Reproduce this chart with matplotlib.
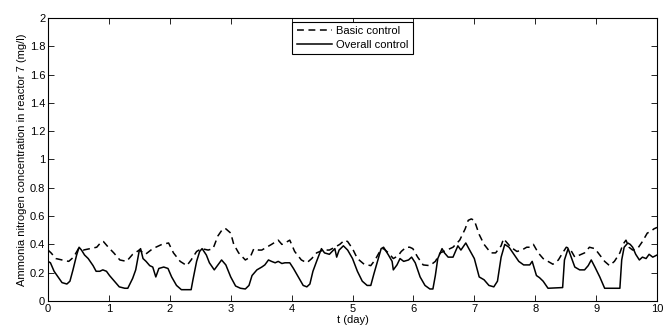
from matplotlib import pyplot as plt
import numpy as np

# datos
t_basic = [0.0, 0.05, 0.13, 0.23, 0.34, 0.42, 0.5, 0.58, 0.69, 0.8, 0.88, 0.91, 0.99, 1.08, 1.18, 1.29,
           1.39, 1.5, 1.6, 1.72, 1.87, 1.98, 2.06, 2.17, 2.28, 2.35, 2.44, 2.52, 2.63, 2.71, 2.79,
           2.87, 2.92, 3.0, 3.05, 3.13, 3.24, 3.32, 3.38, 3.46, 3.51, 3.59, 3.67, 3.78, 3.84, 3.89,
           3.97, 4.05, 4.16, 4.25, 4.33, 4.41, 4.52, 4.62, 4.71, 4.79, 4.87, 4.92, 5.0, 5.08, 5.19,
           5.3, 5.37, 5.46, 5.51, 5.59, 5.67, 5.75, 5.8, 5.88, 5.94, 5.99, 6.07, 6.16, 6.27, 6.36,
           6.44, 6.55, 6.65, 6.76, 6.85, 6.9, 6.95, 7.0, 7.08, 7.16, 7.27, 7.35, 7.44, 7.48, 7.52,
           7.6, 7.7, 7.78, 7.86, 7.91, 7.97, 8.05, 8.13, 8.21, 8.29, 8.38, 8.45, 8.51, 8.57, 8.65,
           8.73, 8.81, 8.89, 8.98, 9.06, 9.14, 9.22, 9.3, 9.39, 9.44, 9.49, 9.54, 9.6, 9.68, 9.76,
           9.84, 9.89, 9.95, 10.0]
basic = [0.36, 0.34, 0.30, 0.29, 0.28, 0.31, 0.37, 0.36, 0.37, 0.38, 0.42, 0.42, 0.38, 0.34, 0.29, 0.28,
         0.33, 0.36, 0.33, 0.37, 0.40, 0.41, 0.34, 0.28, 0.25, 0.29, 0.35, 0.37, 0.36, 0.37, 0.46,
         0.51, 0.51, 0.48, 0.40, 0.34, 0.29, 0.31, 0.37, 0.36, 0.36, 0.38, 0.40, 0.43, 0.40, 0.41,
         0.43, 0.35, 0.29, 0.27, 0.30, 0.34, 0.36, 0.36, 0.38, 0.40, 0.43, 0.42, 0.37, 0.30, 0.26,
         0.25, 0.29, 0.36, 0.37, 0.34, 0.30, 0.32, 0.35, 0.38, 0.38, 0.37, 0.31, 0.255, 0.25, 0.28,
         0.34, 0.36, 0.38, 0.43, 0.51, 0.57, 0.58, 0.57, 0.47, 0.40, 0.34, 0.34, 0.39, 0.44, 0.42,
         0.38, 0.35, 0.36, 0.38, 0.38, 0.40, 0.34, 0.30, 0.28, 0.26, 0.29, 0.34, 0.38, 0.37, 0.31,
         0.325, 0.34, 0.38, 0.37, 0.325, 0.28, 0.25, 0.28, 0.34, 0.40, 0.43, 0.38, 0.36, 0.37, 0.42,
         0.48, 0.49, 0.51, 0.52]

t_overall = [0.0, 0.04, 0.1, 0.18, 0.23, 0.31, 0.36, 0.41, 0.47, 0.51, 0.55, 0.6, 0.66, 0.74, 0.79, 0.85,
             0.9, 0.96, 1.01, 1.09, 1.17, 1.26, 1.31, 1.39, 1.44, 1.5, 1.52, 1.56, 1.61, 1.67, 1.72,
             1.77, 1.82, 1.9, 1.97, 2.03, 2.11, 2.19, 2.35, 2.38, 2.44, 2.49, 2.53, 2.6, 2.65, 2.73,
             2.79, 2.85, 2.92, 3.0, 3.08, 3.16, 3.24, 3.3, 3.35, 3.43, 3.51, 3.56, 3.62, 3.67, 3.73,
             3.78, 3.84, 3.89, 3.97, 4.03, 4.11, 4.19, 4.25, 4.3, 4.35, 4.41, 4.49, 4.54, 4.62, 4.71,
             4.74, 4.78, 4.85, 4.92, 5.0, 5.08, 5.16, 5.24, 5.3, 5.35, 5.41, 5.47, 5.51, 5.59, 5.65,
             5.67, 5.73, 5.78, 5.84, 5.92, 5.97, 6.03, 6.11, 6.19, 6.27, 6.32, 6.36, 6.4, 6.47, 6.51,
             6.57, 6.65, 6.73, 6.78, 6.86, 6.91, 7.0, 7.08, 7.16, 7.24, 7.32, 7.38, 7.44, 7.5, 7.57,
             7.65, 7.73, 7.81, 7.91, 7.95, 8.02, 8.07, 8.13, 8.21, 8.45, 8.48, 8.54, 8.59, 8.65, 8.73,
             8.81, 8.87, 8.92, 8.98, 9.06, 9.14, 9.39, 9.42, 9.46, 9.52, 9.56, 9.6, 9.65, 9.71, 9.76,
             9.82, 9.87, 9.93, 10.0]
overall = [0.28, 0.27, 0.21, 0.16, 0.13, 0.12, 0.14, 0.22, 0.325, 0.38, 0.36, 0.325, 0.30, 0.25, 0.21, 0.21,
           0.22, 0.21, 0.18, 0.14, 0.10, 0.09, 0.09, 0.16, 0.22, 0.36, 0.37, 0.30, 0.28, 0.25, 0.24,
           0.17, 0.23, 0.24, 0.23, 0.17, 0.11, 0.08, 0.08, 0.15, 0.28, 0.35, 0.37, 0.325, 0.27, 0.22,
           0.255, 0.29, 0.255, 0.17, 0.106, 0.09, 0.085, 0.11, 0.18, 0.22, 0.24, 0.255, 0.29, 0.28, 0.27,
           0.28, 0.265, 0.27, 0.27, 0.23, 0.17, 0.11, 0.10, 0.12, 0.21, 0.28, 0.37, 0.34, 0.33, 0.37,
           0.31, 0.36, 0.39, 0.36, 0.30, 0.21, 0.14, 0.11, 0.11, 0.19, 0.28, 0.37, 0.38, 0.325, 0.28,
           0.22, 0.255, 0.30, 0.28, 0.29, 0.31, 0.27, 0.17, 0.11, 0.085, 0.085, 0.18, 0.30, 0.37, 0.34,
           0.31, 0.31, 0.39, 0.36, 0.41, 0.37, 0.30, 0.17, 0.15, 0.11, 0.10, 0.14, 0.31, 0.40, 0.38,
           0.33, 0.28, 0.255, 0.255, 0.28, 0.18, 0.165, 0.14, 0.09, 0.095, 0.29, 0.37, 0.31, 0.24, 0.22,
           0.22, 0.25, 0.29, 0.24, 0.17, 0.09, 0.09, 0.29, 0.38, 0.41, 0.40, 0.38, 0.33, 0.29, 0.31,
           0.30, 0.33, 0.31, 0.325]

plt.rcParams['font.family'] = ['Liberation Sans', 'DejaVu Sans']
plt.rcParams['font.size'] = 8

fig = plt.figure(figsize=(6.64, 3.29), dpi=100)
ax = fig.add_axes([0.0723, 0.0851, 0.9172, 0.8602])

ax.plot(t_basic, basic, 'k--', linewidth=1.1, dashes=(4.5, 3), label='Basic control')
ax.plot(t_overall, overall, 'k-', linewidth=1.1, label='Overall control')

ax.set_xlim(0, 10)
ax.set_ylim(0, 2)
ax.set_xticks(np.arange(0, 11, 1))
ax.set_yticks(np.arange(0, 2.01, 0.2))
ax.set_yticklabels(['0', '0.2', '0.4', '0.6', '0.8', '1', '1.2', '1.4', '1.6', '1.8', '2'])
ax.tick_params(direction='in', top=True, right=True, length=4, width=0.6, pad=2)
for s in ax.spines.values():
    s.set_linewidth(0.8)

ax.set_xlabel('t (day)', labelpad=1)
ax.set_ylabel('Ammonia nitrogen concentration in reactor 7 (mg/l)', labelpad=2)

leg = ax.legend(loc='upper center', fancybox=False, framealpha=1, edgecolor='k',
                borderaxespad=0.35, handlelength=3.2, borderpad=0.4, labelspacing=0.3,
                handletextpad=0.3)
leg.get_frame().set_linewidth(0.8)

fig.savefig('out.png', dpi=100)
